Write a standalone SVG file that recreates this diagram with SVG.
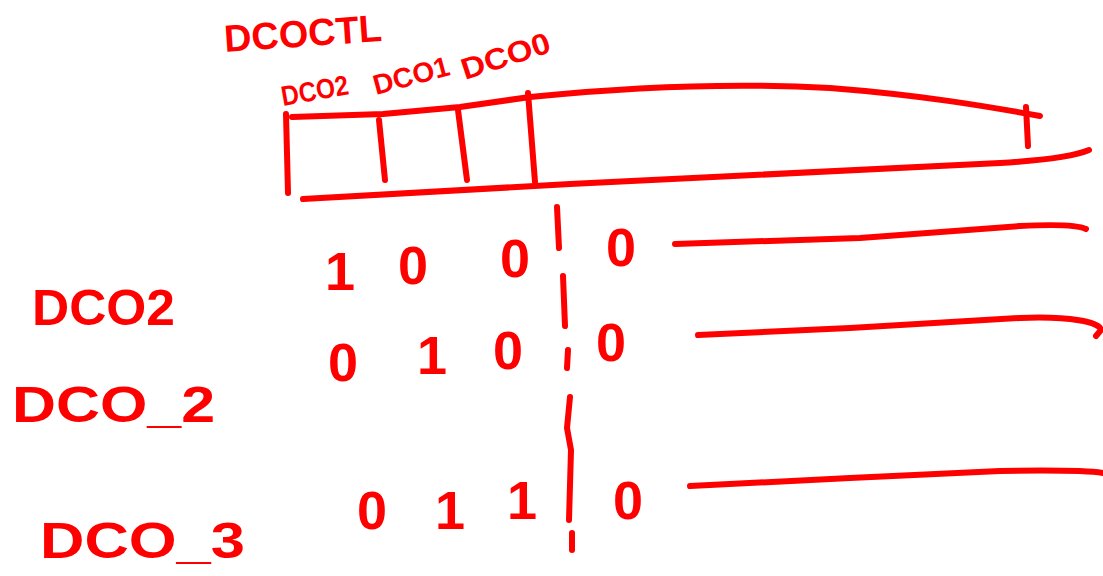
<svg xmlns="http://www.w3.org/2000/svg" width="1103" height="576" viewBox="0 0 1103 576">
<style>
.s{fill:none;stroke:#ff0000;stroke-width:6;stroke-linecap:round;stroke-linejoin:round}
.t{fill:#ff0000;font-family:"Liberation Sans",Arial,sans-serif;font-weight:bold}
.d{fill:#ff0000;font-family:"Liberation Sans",Arial,sans-serif;font-weight:bold;font-size:54px;text-anchor:middle}
</style>
<rect width="1103" height="576" fill="#ffffff"/>
<g id="register">
<path class="s" d="M286,114 L288,193"/>
<path class="s" d="M292,117 L383,114 L460,107 L530,97 C620,88 720,82 830,88 C920,95 985,106 1040,116"/>
<path class="s" d="M1026,107 L1028,146"/>
<path class="s" d="M303,199 L570,184 L1000,163 C1050,160 1075,156 1089,150"/>
<path class="s" d="M379,120 L385,180"/>
<path class="s" d="M458,110 L467,180"/>
<path class="s" d="M528,93 L535,182"/>
</g>
<g id="labels-top">
<text class="t" x="225" y="52" font-size="38" textLength="158" lengthAdjust="spacingAndGlyphs" transform="rotate(-4 225 52)">DCOCTL</text>
<text class="t" x="283" y="106" font-size="28" textLength="68" lengthAdjust="spacingAndGlyphs" transform="rotate(-10 283 106)">DCO2</text>
<text class="t" x="376" y="95" font-size="28" textLength="78" lengthAdjust="spacingAndGlyphs" transform="rotate(-15 376 95)">DCO1</text>
<text class="t" x="465" y="80" font-size="30" textLength="92" lengthAdjust="spacingAndGlyphs" transform="rotate(-18 465 80)">DCO0</text>
</g>
<g id="labels-left">
<text class="t" x="32" y="325" font-size="50" textLength="143" lengthAdjust="spacingAndGlyphs">DCO2</text>
<text class="t" x="12" y="422" font-size="50" textLength="203" lengthAdjust="spacingAndGlyphs">DCO_2</text>
<text class="t" x="40" y="558" font-size="50" textLength="205" lengthAdjust="spacingAndGlyphs">DCO_3</text>
</g>
<g id="bits">
<text class="d" x="340" y="290">1</text>
<text class="d" x="413" y="284">0</text>
<text class="d" x="515" y="277">0</text>
<text class="d" x="621" y="266" font-size="40">0</text>
<text class="d" x="343" y="381">0</text>
<text class="d" x="432" y="374">1</text>
<text class="d" x="508" y="369">0</text>
<text class="d" x="611" y="361">0</text>
<text class="d" x="372" y="529">0</text>
<text class="d" x="450" y="529">1</text>
<text class="d" x="522" y="519">1</text>
<text class="d" x="628" y="519">0</text>
</g>
<g id="connectors">
<path class="s" d="M557,207 L559,248"/>
<path class="s" d="M563,276 L565,326"/>
<path class="s" d="M568,350 L567,368"/>
<path class="s" d="M570,397 L567,428 L571,450 L569,520"/>
<path class="s" d="M572,533 L572,550"/>
<path class="s" d="M675,244 L860,238 L1020,226 C1060,224 1080,226 1086,229"/>
<path class="s" d="M698,335 L850,328 L1020,318 C1070,316 1100,322 1101,330 L1096,336"/>
<path class="s" d="M690,486 L850,478 L1000,471 C1060,470 1090,471 1103,473"/>
</g>
</svg>
